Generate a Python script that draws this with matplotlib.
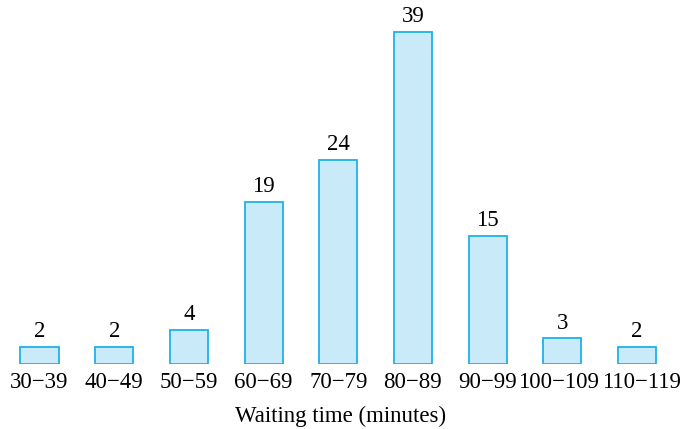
import matplotlib.pyplot as plt
from matplotlib.transforms import ScaledTranslation

categories = ["30−39", "40−49", "50−59", "60−69", "70−79",
              "80−89", "90−99", "100−109", "110−119"]
counts = [2, 2, 4, 19, 24, 39, 15, 3, 2]

plt.rcParams['font.family'] = ['Liberation Serif', 'DejaVu Serif']

fig = plt.figure(figsize=(6.82, 4.29), dpi=100)
ax = fig.add_axes([0, 65 / 429, 1, 364 / 429])

x = range(len(categories))
bars = ax.bar(x, counts, width=0.51, color='#c8eaf9', edgecolor='#1fb1ea', linewidth=1.3)

for b, c in zip(bars, counts):
    ax.annotate(str(c), (b.get_x() + b.get_width() / 2, c), xytext=(0, 3.5),
                textcoords='offset points', ha='center', va='bottom', fontsize=16.5)

ax.set_xlim(-39.5 / 74.7, (682 - 39.5) / 74.7)
ax.set_ylim(0, 364 / 8.51)
ax.set_xticks(list(x))
ax.set_xticklabels(categories, fontsize=16.5)
ax.tick_params(axis='x', length=0, pad=6)
ax.set_yticks([])
for s in ax.spines.values():
    s.set_visible(False)
ax.set_xlabel("Waiting time (minutes)", fontsize=16.5, labelpad=9)

# nudge the two widest labels apart so they don't touch
labels = ax.get_xticklabels()
for lab, dx in [(labels[-2], -4), (labels[-1], 4)]:
    lab.set_transform(lab.get_transform() + ScaledTranslation(dx / 100, 0, fig.dpi_scale_trans))

fig.savefig("out.png", dpi=100)
